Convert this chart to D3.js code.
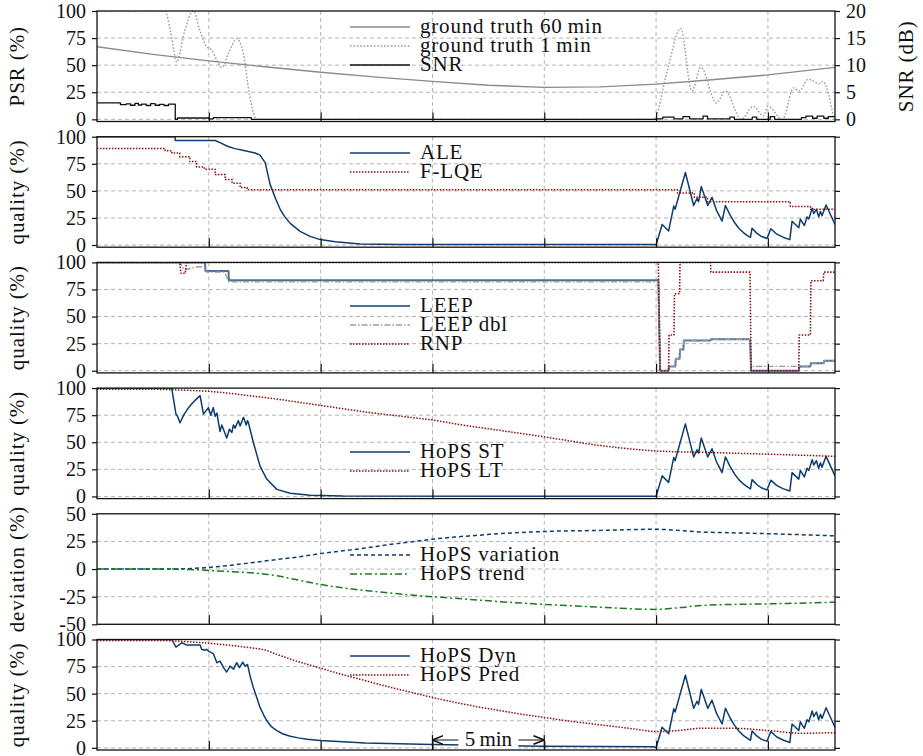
<!DOCTYPE html>
<html><head><meta charset="utf-8">
<script src="https://cdn.jsdelivr.net/npm/d3@7"></script>
<style>
body{margin:0;background:#fff;}
svg text{font-family:"Liberation Serif","Times New Roman",serif;fill:#111;}
</style></head>
<body><svg id="c" width="923" height="756"></svg>
<script>
// ---------- DATA (time in minutes) ----------
const xTicks = [5,10,15,20,25,30];
const qualTicks = [0,25,50,75,100];
const devTicks = [-50,-25,0,25,50];
const snrTicks = [0,5,10,15,20];

// Panel 1
const gt60 = [[0,67],[2.5,60],[5,54],[7.5,48.5],[10,43.5],[12.5,39],[15,35],[17.5,31.5],[20,29.5],[22.5,30],[25,32.5],[27.5,36.5],[30,41],[33,48]];
const gt1 = [[0,100],[3.04,100],[3.3,80],[3.57,53],[3.9,80],[4.31,100],[4.6,82],[4.9,67],[5.13,64],[5.35,55],[5.58,48],[5.9,62],[6.25,74.5],[6.55,60],[6.8,25],[7.14,0],[24.9,0],[25.5,45],[26.1,84],[26.6,26],[27.0,48],[27.7,15],[28.1,26],[28.8,0],[29.35,12],[29.8,3],[30.0,12],[30.65,0],[31.15,29],[31.4,26],[31.8,37],[32.3,33],[32.45,35],[32.95,0]];
const snr = [[0,3.05],[1.05,2.7],[1.3,2.85],[1.5,2.6],[1.7,2.95],[1.85,2.65],[2.0,2.8],[2.2,2.55],[2.4,2.9],[2.6,2.6],[2.8,2.75],[3.0,2.55],[3.2,2.8],[3.5,0],[3.6,0.25],[5.0,0.1],[5.2,0.3],[6.9,0],[25.0,0.1],[25.3,0.4],[25.8,0.1],[26.2,0.5],[26.5,0.1],[27.1,0.6],[27.3,0.1],[28.3,0.4],[28.5,0],[29.3,0.4],[29.5,0],[30.1,0.5],[30.3,0],[31.5,0.3],[31.7,0.6],[32.0,0.2],[32.2,0.6],[32.5,0.2],[32.7,0.5],[33,0.5]];

// Shared burst after reconnection (ALE / HoPS ST / HoPS Dyn)
const burst = [[25.0,0],[25.27,19],[25.56,13],[25.79,36],[25.85,33],[26.31,67],[26.68,36.5],[26.83,43],[26.9,40],[27.02,54],[27.31,36.5],[27.5,44],[27.6,38],[27.7,32],[27.8,28],[27.95,22],[28.1,36.5],[28.3,28],[28.5,21],[28.7,15.5],[28.9,11.5],[29.1,8.5],[29.22,7],[29.29,15.5],[29.5,11],[29.7,8],[29.96,6],[30.13,15],[30.4,10],[30.7,7],[30.98,5],[31.08,22],[31.38,16],[31.45,24],[31.63,18],[31.75,26],[31.83,24],[31.98,34],[32.05,29],[32.17,33],[32.27,26],[32.35,31],[32.42,27],[32.6,37],[32.8,28],[33.0,19]];

// Panel 2
const aleStart = [[0,100],[3.49,100],[3.5,96.5],[5.28,96.5],[5.5,94.5],[5.86,91],[6.17,89],[6.62,87],[7.07,85],[7.29,83],[7.52,76],[7.74,56],[8.0,42],[8.19,33],[8.4,26],[8.64,20],[9.08,12.6],[9.53,8],[9.98,5],[10.65,3],[11.77,1],[13.56,0.4],[24.9,0.4]];
const flqe = [[0,89],[2.8,89],[3.05,87],[3.35,85],[3.7,81.6],[4.15,77],[4.45,72],[4.8,70],[5.28,65],[5.73,60.5],[6.04,57],[6.4,53],[6.71,51],[25.56,51],[25.95,48],[26.71,44],[27.3,40],[31.0,40],[31.0,35.5],[31.9,35.5],[31.9,33],[33,33]];

// Panel 3
const leep = [[0,100],[4.83,100],[4.85,92],[5.88,92],[5.9,83.5],[25.1,83.5],[25.18,0],[25.56,0],[25.58,4],[25.86,4],[25.88,11],[26.05,11],[26.07,19.5],[26.22,19.5],[26.24,28],[27.43,28],[27.45,29],[29.2,29],[29.25,0],[31.38,0],[31.4,4],[31.9,4],[31.92,7],[32.5,7],[32.52,9.3],[33,9.3]];
const leepDbl = [[0,100],[3.7,100],[3.9,93],[4.5,96],[4.83,96],[4.9,91],[5.7,91],[5.9,82],[25.1,82],[25.18,0],[25.56,0],[25.58,4],[25.86,4],[25.88,11],[26.05,11],[26.07,19.5],[26.22,19.5],[26.24,28],[27.43,28],[27.45,29],[29.2,29],[29.25,4],[31.38,4],[31.4,4],[31.9,4],[31.92,7],[32.5,7],[32.52,9.3],[33,9.3]];
const rnp = [[0,100],[3.7,100],[3.75,90],[3.95,90],[4.0,100],[25.1,100],[25.18,0],[25.56,0],[25.58,33],[25.8,33],[25.82,71],[26.05,71],[26.07,100],[27.43,100],[27.45,91],[29.2,91],[29.25,0],[31.38,0],[31.4,33],[31.9,33],[31.92,83],[32.47,83],[32.5,91],[33,91]];

// Panel 4
const stStart = [[0,100],[3.34,100],[3.53,76],[3.6,74],[3.71,68],[3.9,76],[4.1,82],[4.3,87],[4.5,91],[4.61,93],[4.76,76],[4.98,82],[5.09,75],[5.2,82],[5.28,74],[5.36,77],[5.5,60],[5.58,66],[5.8,54],[5.92,62],[6.03,59],[6.1,66],[6.17,63],[6.32,70],[6.4,65],[6.55,73],[6.67,66],[6.73,70],[6.77,68],[6.99,50],[7.29,28],[7.59,16],[8.04,6.5],[8.64,3],[9.53,1],[11,0.3],[24.9,0.2]];
const hopsLT = [[0,99],[2,99],[4,98],[5,97],[6,95],[7,92.5],[8,90],[9,87],[10,84],[12,78],[14,73],[15,70.5],[16,67],[18,61],[20,55],[22.5,47],[25,42],[27.5,40.5],[30,39],[33,37]];

// Panel 5
const variation = [[0,0],[3,0],[4,0.3],[5,1.5],[6,3.5],[7,6],[8,8.5],[9,11],[10,14],[11,16.5],[12,19],[13,22],[14,24.5],[15,27],[16,29],[17,30.5],[18,32],[20,34],[22.5,35],[25,36],[26,35],[27,33.5],[28,33],[30,32],[33,30]];
const trend = [[0,0],[3,0],[4,-0.3],[5,-1.3],[6,-2.3],[7,-3.5],[8,-6],[9,-10],[10,-14],[11,-17],[12,-19.5],[13,-21.5],[14,-23.5],[15,-25],[16,-26.5],[17,-28],[18,-29.5],[20,-32],[22.5,-34.5],[25,-36.5],[26,-35],[27,-33],[28.5,-32],[30,-31.5],[33,-30]];

// Panel 6
const dynStart = [[0,100],[3.34,100],[3.53,93],[3.79,97],[4.0,95],[4.61,95],[4.68,91],[4.83,90],[4.9,91],[5.0,89],[5.2,87],[5.36,78.6],[5.5,80],[5.66,74],[5.8,70],[5.95,75.5],[6.1,72.5],[6.25,78.6],[6.37,74],[6.52,79],[6.62,75.5],[6.73,77],[6.85,66],[6.99,55.7],[7.15,46],[7.29,37.3],[7.45,30.5],[7.59,25],[7.8,19.5],[8.04,15.9],[8.3,13],[8.64,10.7],[9.0,9.2],[9.39,7.9],[9.98,6.7],[12,4.5],[15,3],[20,1.5],[24.9,1]];
const hopsPred = [[0,99],[3,99],[4,98],[5,96.5],[6,94.5],[7,92],[7.5,90.5],[8,86.5],[8.5,83],[9,79.5],[9.5,76.5],[10,73.5],[11,67.5],[12,62],[13,56.5],[14,51.5],[15,46.5],[16,42],[17,38],[18,34.5],[19,31],[20,28],[21,25],[22,22.5],[23,20],[24,17.5],[25,15],[26,16],[27,18],[28.5,18],[30,16],[31.5,13.5],[33,14]];

// ---------- LAYOUT ----------
const FONT = "'Liberation Serif','Times New Roman',serif";
const svg = d3.select("#c");
const x = d3.scaleLinear().domain([0,33]).range([97,835]);
const tops = [11,136.7,262.4,388.1,513.8,639.5];
const PH = 110.5;
const BLUE="#0d3c6e", RED="#8b1010", GREEN="#1c7a1c";

const panels = [
 {yd:[-2,100], ticks:qualTicks, title:"PSR (%)",
  series:[
   {d:gt60, c:"#8a8a8a", w:1.4, dash:null, lbl:"ground truth 60\u2009min"},
   {d:gt1, c:"#9a9a9a", w:1.4, dash:"1.6,1.8", curve:d3.curveMonotoneX, lbl:"ground truth 1\u2009min"},
   {d:snr, c:"#111", w:1.3, dash:null, curve:d3.curveStepAfter, axis:"snr", lbl:"SNR"}]},
 {yd:[-2,100], ticks:qualTicks, title:"quality (%)",
  series:[
   {d:aleStart.concat(burst), c:BLUE, w:1.5, lbl:"ALE"},
   {d:flqe, c:RED, w:1.5, dash:"1.5,1.5", curve:d3.curveStepAfter, lbl:"F-LQE"}]},
 {yd:[-2,100], ticks:qualTicks, title:"quality (%)",
  series:[
   {d:leep, c:"#4a6f98", w:2, lbl:"LEEP"},
   {d:leepDbl, c:"#9a9a9a", w:1.4, dash:"6,2,1.5,2", lbl:"LEEP dbl"},
   {d:rnp, c:RED, w:1.6, dash:"1.5,1.5", lbl:"RNP"}]},
 {yd:[-2,100], ticks:qualTicks, title:"quality (%)",
  series:[
   {d:stStart.concat(burst), c:BLUE, w:1.5, lbl:"HoPS ST"},
   {d:hopsLT, c:RED, w:1.5, dash:"1.5,1.5", curve:d3.curveMonotoneX, lbl:"HoPS LT"}]},
 {yd:[-50,50], ticks:devTicks, title:"deviation (%)",
  series:[
   {d:variation, c:BLUE, w:1.5, dash:"4,3", curve:d3.curveMonotoneX, lbl:"HoPS variation"},
   {d:trend, c:GREEN, w:1.5, dash:"7,3,2,3", curve:d3.curveMonotoneX, lbl:"HoPS trend"}]},
 {yd:[-2,100], ticks:qualTicks, title:"quality (%)",
  series:[
   {d:dynStart.concat(burst), c:BLUE, w:1.5, lbl:"HoPS Dyn"},
   {d:hopsPred, c:RED, w:1.5, dash:"1.5,1.5", curve:d3.curveMonotoneX, lbl:"HoPS Pred"}]}
];
const legendTop = [27,153,306,452,555,656];

panels.forEach((p,i)=>{
  const top = tops[i], bot = top+PH;
  const y = d3.scaleLinear().domain(p.yd).range([bot,top]);
  const ySnr = d3.scaleLinear().domain([-0.4,20]).range([bot,top]);
  const g = svg.append("g");
  const cid = "clip"+i;
  svg.append("clipPath").attr("id",cid).append("rect").attr("x",97).attr("y",top).attr("width",738).attr("height",PH);
  // grid
  const grid = g.append("g").attr("stroke","#b4b4b4").attr("stroke-width",1).attr("stroke-dasharray","4,3");
  p.ticks.forEach(v=>{ if(v!==p.yd[1]) grid.append("line").attr("x1",97).attr("x2",835).attr("y1",y(v)).attr("y2",y(v)); });
  xTicks.forEach(v=>grid.append("line").attr("x1",x(v)).attr("x2",x(v)).attr("y1",top).attr("y2",bot));
  // series
  const sg = g.append("g").attr("clip-path",`url(#${cid})`);
  p.series.forEach(s=>{
    const yy = s.axis==="snr"? ySnr : y;
    const line = d3.line().x(d=>x(d[0])).y(d=>yy(d[1])).curve(s.curve||d3.curveLinear);
    sg.append("path").attr("d",line(s.d)).attr("fill","none").attr("stroke",s.c)
      .attr("stroke-width",s.w).attr("stroke-dasharray",s.dash||null).attr("stroke-linejoin","round");
  });
  // frame
  g.append("rect").attr("x",97).attr("y",top).attr("width",738).attr("height",PH).attr("fill","none").attr("stroke","#111").attr("stroke-width",1.3);
  // axes
  const la = g.append("g").attr("transform","translate(97,0)").call(d3.axisLeft(y).tickValues(p.ticks).tickSize(5).tickPadding(6));
  la.select(".domain").remove();
  la.selectAll("text").style("font-family",FONT).style("font-size","20px").attr("fill","#111").text(d=>d<0? "-"+Math.abs(d): d);
  const ra = g.append("g").attr("transform","translate(835,0)");
  if(i===0){
    ra.call(d3.axisRight(ySnr).tickValues(snrTicks).tickSize(5).tickPadding(6));
    ra.selectAll("text").style("font-family",FONT).style("font-size","20px").attr("fill","#111");
  } else {
    ra.call(d3.axisRight(y).tickValues(p.ticks).tickSize(5).tickFormat(""));
  }
  ra.select(".domain").remove();
  const ba = g.append("g").attr("transform",`translate(0,${bot})`).call(d3.axisTop(x).tickValues(xTicks).tickSize(9).tickFormat(""));
  ba.select(".domain").remove();
  g.selectAll(".tick line").attr("stroke","#111").attr("stroke-width",1.2);
  // y title
  svg.append("text").attr("transform",`translate(24,${top+PH/2}) rotate(-90)`).attr("text-anchor","middle")
    .style("font-family",FONT).style("font-size","21px").style("letter-spacing","0.9px").text(p.title);
  // legend
  p.series.forEach((s,k)=>{
    const ly = legendTop[i]+k*19;
    svg.append("line").attr("x1",350).attr("x2",410).attr("y1",ly).attr("y2",ly).attr("stroke",s.c)
      .attr("stroke-width",s.w).attr("stroke-dasharray",s.dash||null);
    svg.append("text").attr("x",420).attr("y",ly+6).style("font-family",FONT).style("font-size","21px")
      .style("letter-spacing","0.8px").text(s.lbl);
  });
});
// right title
svg.append("text").attr("transform",`translate(913,${tops[0]+PH/2}) rotate(-90)`).attr("text-anchor","middle")
  .style("font-family",FONT).style("font-size","21px").style("letter-spacing","0.9px").text("SNR (dB)");

// 5 min marker in bottom panel
{
  const bot = tops[5]+PH, yA = bot-10;
  svg.append("defs").html('<marker id="ah" viewBox="0 0 10 10" refX="10" refY="5" markerWidth="9" markerHeight="9" orient="auto-start-reverse"><path d="M0,1 L10,5 L0,9" fill="none" stroke="#111" stroke-width="1.4"/></marker>');
  [15,20].forEach(v=>svg.append("line").attr("x1",x(v)).attr("x2",x(v)).attr("y1",bot-15).attr("y2",bot).attr("stroke","#111").attr("stroke-width",1.2));
  svg.append("line").attr("x1",x(15)).attr("x2",x(20)).attr("y1",yA).attr("y2",yA).attr("stroke","#111").attr("stroke-width",1.2)
    .attr("marker-start","url(#ah)").attr("marker-end","url(#ah)");
  svg.append("rect").attr("x",x(17.5)-30).attr("y",yA-10).attr("width",60).attr("height",19).attr("fill","#fff");
  svg.append("text").attr("x",x(17.5)).attr("y",yA+6).attr("text-anchor","middle").style("font-family",FONT).style("font-size","21px").text("5\u2009min");
}
</script></body></html>
